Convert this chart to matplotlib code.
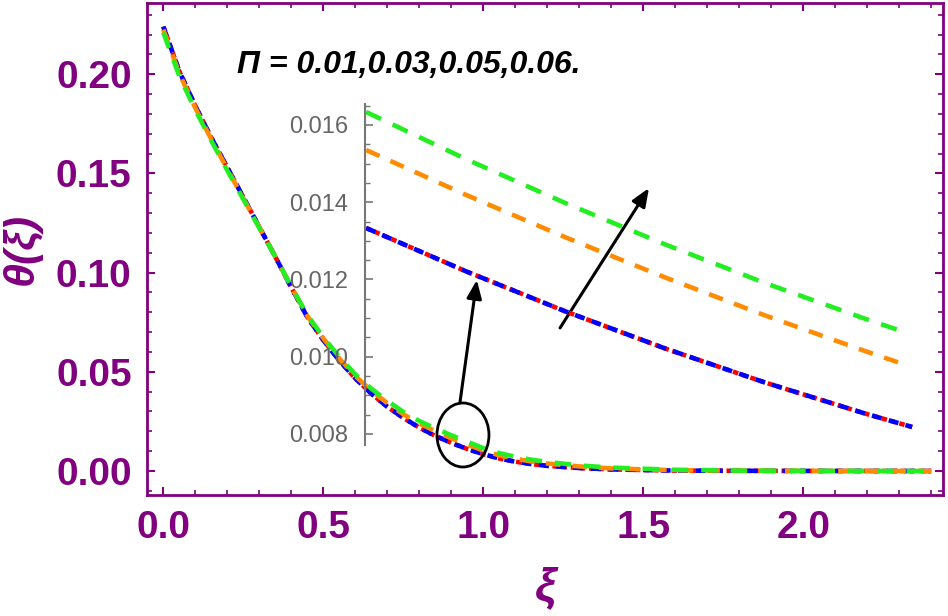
import matplotlib
matplotlib.use('Agg')
import matplotlib.pyplot as plt
from matplotlib.patches import Ellipse
from matplotlib.ticker import MultipleLocator, FixedLocator

# ---------------- data ----------------
xi = [0.00, 0.05, 0.10, 0.15, 0.20, 0.25, 0.30, 0.35, 0.40, 0.45, 0.50, 0.55,
      0.60, 0.65, 0.70, 0.75, 0.80, 0.85, 0.90, 0.95, 1.00, 1.05, 1.10, 1.15,
      1.20, 1.30, 1.40, 1.60, 1.80, 2.00, 2.20, 2.40]
theta_pi_001 = [0.224, 0.2015, 0.184, 0.168, 0.153, 0.138, 0.123, 0.108,
                0.0925, 0.0776, 0.0660, 0.0557, 0.0467, 0.0390, 0.0324,
                0.0268, 0.0219, 0.0177, 0.0142, 0.0111, 0.0085, 0.0063,
                0.0047, 0.0035, 0.0026, 0.0015, 0.0008, 0.0002, 0.0001,
                0.00003, 0.00001, 0.0]                       # blue
theta_pi_003 = [0.224, 0.2015, 0.184, 0.168, 0.153, 0.138, 0.123, 0.108,
                0.0925, 0.0776, 0.0660, 0.0557, 0.0467, 0.0390, 0.0324,
                0.0268, 0.0219, 0.0177, 0.0142, 0.0111, 0.0085, 0.0063,
                0.0047, 0.0035, 0.0026, 0.0015, 0.0008, 0.0002, 0.0001,
                0.00003, 0.00001, 0.0]                       # red
theta_pi_005 = [0.2225, 0.2003, 0.183, 0.1672, 0.1522, 0.1375, 0.1228, 0.108,
                0.0928, 0.0782, 0.0669, 0.0567, 0.0479, 0.0405, 0.0342,
                0.0286, 0.0240, 0.0201, 0.0165, 0.0134, 0.0103, 0.0079,
                0.0062, 0.0048, 0.0038, 0.0023, 0.0013, 0.0004, 0.00015,
                0.00006, 0.00002, 0.0]                       # orange
theta_pi_006 = [0.221, 0.199, 0.182, 0.1665, 0.1515, 0.137, 0.1225, 0.108,
                0.093, 0.0786, 0.0675, 0.0575, 0.0487, 0.0415, 0.0354,
                0.0298, 0.0252, 0.0215, 0.0180, 0.0148, 0.0115, 0.0090,
                0.0072, 0.0057, 0.0046, 0.0028, 0.0017, 0.0006, 0.0002,
                0.0001, 0.00003, 0.0]                        # green

# inset (zoomed region)
inset_xi_low = [0.900, 0.91825, 0.9365, 0.95474, 0.97299, 0.99124, 1.000]
inset_pi_001 = [0.013332, 0.012212, 0.011171, 0.010212, 0.009332, 0.008531,
                0.008176]
inset_pi_003 = [0.013332, 0.012212, 0.011171, 0.010212, 0.009332, 0.008531,
                0.008176]
inset_xi_005 = [0.900, 0.91825, 0.9365, 0.95474, 0.97299, 0.99124, 0.99781]
inset_pi_005 = [0.015352, 0.014192, 0.013091, 0.012052, 0.011070, 0.010150,
                0.009834]
inset_xi_006 = [0.900, 0.91825, 0.9365, 0.95474, 0.97299, 0.99124, 0.99909]
inset_pi_006 = [0.016337, 0.015119, 0.013977, 0.012907, 0.011909, 0.010987,
                0.010611]

x_ticks = [0.0, 0.5, 1.0, 1.5, 2.0]
y_ticks = [0.00, 0.05, 0.10, 0.15, 0.20]
inset_ticks = [0.008, 0.010, 0.012, 0.014, 0.016]
annotation = "\u03a0 = 0.01,0.03,0.05,0.06."

# ---------------- styles ----------------
PURPLE = '#800080'
C_BLUE = '#0000FF'
C_RED = '#FF0000'
C_ORANGE = '#FF8C00'
C_GREEN = '#22EE22'
plt.rcParams['font.family'] = ['Liberation Sans', 'DejaVu Sans']

fig = plt.figure(figsize=(9.48, 6.16), dpi=100)
ax = fig.add_axes([147/948, 1-495/616, (943-147)/948, (495-3)/616])


def draw(a, x, r, b, o, g, xo, xg, lw):
    a.plot(x, r, color=C_RED, lw=lw, linestyle=(0, (1.2, 0.8)))
    a.plot(x, b, color=C_BLUE, lw=lw, linestyle=(0, (2.2, 1.6)))
    a.plot(xo, o, color=C_ORANGE, lw=lw, linestyle=(0, (3.2, 2.6)))
    a.plot(xg, g, color=C_GREEN, lw=lw, linestyle=(0, (3.6, 2.8)))


draw(ax, xi, theta_pi_003, theta_pi_001, theta_pi_005, theta_pi_006, xi, xi, 3.3)

ax.set_xlim(-0.051, 2.437)
ax.set_ylim(-0.0121, 0.2359)
ax.xaxis.set_major_locator(FixedLocator(x_ticks))
ax.yaxis.set_major_locator(FixedLocator(y_ticks))
ax.xaxis.set_minor_locator(MultipleLocator(0.1))
ax.yaxis.set_minor_locator(MultipleLocator(0.01))
ax.set_xticklabels([f"{v:.1f}" for v in x_ticks])
ax.set_yticklabels([f"{v:.2f}" for v in y_ticks])
for s in ax.spines.values():
    s.set_color(PURPLE)
    s.set_linewidth(2.0)
ax.tick_params(which='both', direction='in', colors=PURPLE,
               top=True, right=True)
ax.tick_params(which='major', length=6, width=1.5, pad=11,
               labelsize=28)
ax.tick_params(which='minor', length=3.5, width=1.2)
for lab in ax.get_xticklabels() + ax.get_yticklabels():
    lab.set_fontweight('bold')
    lab.set_color(PURPLE)

ax.set_xlabel('\u03be', fontsize=34, fontweight='bold', style='italic',
              color=PURPLE, labelpad=14)
ax.set_ylabel('\u03b8(\u03be)', fontsize=31, fontweight='bold',
              style='italic', color=PURPLE, labelpad=10)

ax.text(0.23, 0.2046, annotation, fontsize=23, fontweight='bold',
        style='italic', color='black', ha='left', va='center')

# ellipse and arrows
ax.add_patch(Ellipse((0.9366, 0.01815), 0.1625, 0.03226, fill=False,
                     edgecolor='black', lw=2.0, zorder=6))
ax.annotate('', xy=(0.980, 0.0963), xytext=(0.927, 0.0343),
            arrowprops=dict(arrowstyle='-|>,head_length=1.1,head_width=0.45',
                            color='black', lw=2.2, shrinkA=0, shrinkB=0),
            zorder=7)
ax.annotate('', xy=(1.518, 0.1426), xytext=(1.240, 0.0721),
            arrowprops=dict(arrowstyle='-|>,head_length=1.1,head_width=0.45',
                            color='black', lw=2.2, shrinkA=0, shrinkB=0),
            zorder=7)

# ---------------- inset ----------------
axi = fig.add_axes([365/948, 1-445/616, (940-365)/948, (445-104)/616])
axi.patch.set_alpha(0)
draw(axi, inset_xi_low, inset_pi_003, inset_pi_001, inset_pi_005,
     inset_pi_006, inset_xi_005, inset_xi_006, 3.3)
axi.set_xlim(0.8998, 1.0051)
axi.set_ylim(0.00771, 0.016544)
for k in ['top', 'right', 'bottom']:
    axi.spines[k].set_visible(False)
axi.spines['left'].set_color('#777777')
axi.spines['left'].set_linewidth(1.5)
axi.set_xticks([])
axi.yaxis.set_major_locator(FixedLocator(inset_ticks))
axi.yaxis.set_minor_locator(MultipleLocator(0.0005))
axi.set_yticklabels([f"{v:.3f}" for v in inset_ticks])
axi.tick_params(axis='y', which='both', direction='in', colors='#777777')
axi.tick_params(axis='y', which='major', length=6, width=1.2, labelsize=17,
                pad=12)
axi.tick_params(axis='y', which='minor', length=3.5, width=1.0)
for lab in axi.get_yticklabels():
    lab.set_color('#666666')

fig.savefig('out.png', dpi=100)
